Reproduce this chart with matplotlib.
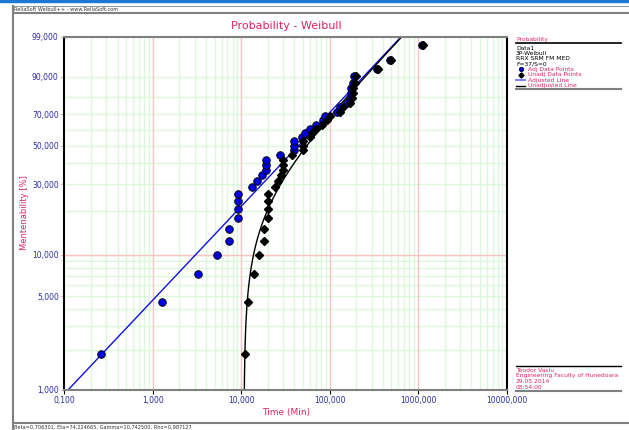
import matplotlib.pyplot as plt
from matplotlib.lines import Line2D
import numpy as np

# fit parameters (from the status bar)
beta = 0.706301
eta = 74.224665
gamma = 10.7425

# failure times (unadjusted) and the gamma-adjusted times, in minutes
times_unadj = [11, 12, 14, 16, 18, 18, 20, 20, 20, 20, 24, 26, 28, 30, 30, 30,
               38, 50, 50, 50, 60, 64, 71, 81, 94, 100, 132, 143, 168, 180,
               183, 183, 195, 200, 356, 491, 1127]
times_adj = [0.26, 1.26, 3.26, 5.26, 7.26, 7.26, 9.26, 9.26, 9.26, 9.26, 13.26,
             15.26, 17.26, 19.26, 19.26, 19.26, 27.26, 39.26, 39.26, 39.26,
             49.26, 53.26, 60.26, 70.26, 83.26, 89.26, 121.26, 132.26, 157.26,
             169.26, 172.26, 172.26, 184.26, 189.26, 345.26, 480.26, 1116.26]
# median ranks [%]
unrel = [1.87, 4.55, 7.22, 9.89, 12.57, 15.24, 17.91, 20.59, 23.26, 25.94,
         28.61, 31.28, 33.96, 36.63, 39.30, 41.98, 44.65, 47.33, 50.00, 52.67,
         55.35, 58.02, 60.70, 63.37, 66.04, 68.72, 71.39, 74.06, 76.74, 79.41,
         82.09, 84.76, 87.43, 90.11, 92.78, 95.45, 98.13]

x_ticks = [0.1, 1, 10, 100, 1000, 10000]
y_ticks = [1, 5, 10, 30, 50, 70, 90, 99]
y_grid = [1, 2, 3, 4, 5, 6, 7, 8, 9, 10, 20, 30, 40, 50, 60, 70, 80, 90, 99]

RED = '#e0245e'
TBLUE = '#2b2ba0'
GREEN = '#dcf7dc'
PINK = '#f5c4c4'
GRAY = '#808080'

W, H = 629, 430


def fwd(p):
    p = np.clip(np.asarray(p, dtype=float), 1e-6, 100 - 1e-6)
    return np.log(-np.log(1 - p / 100.0))


def inv(w):
    return 100.0 * (1 - np.exp(-np.exp(w)))


def fx(x):
    return x / W


def fy(y):
    return 1 - y / H


fig = plt.figure(figsize=(6.29, 4.30), dpi=100)
ax = fig.add_axes([fx(64.3), fy(390), fx(506.5) - fx(64.3), fy(36.7) - fy(390)])
ax.set_xscale('log')
ax.set_yscale('function', functions=(fwd, inv))
ax.set_xlim(0.1, 10000)
ax.set_ylim(1, 99)

# grid
for dec in [0.1, 1, 10, 100, 1000]:
    for k in range(2, 10):
        ax.axvline(dec * k, color=GREEN, lw=1, zorder=0)
for dec in [1, 10, 100, 1000]:
    ax.axvline(dec, color=PINK, lw=1, zorder=0.5)
for p in y_grid:
    ax.axhline(p, color=GREEN, lw=1, zorder=0)
ax.axhline(10, color=PINK, lw=1, zorder=0.5)

# fitted lines
t = np.logspace(-1, 4, 600)
f_adj = 100 * (1 - np.exp(-(t / eta) ** beta))
ax.plot(t, f_adj, color='#1010e0', lw=1, zorder=2)
tu = gamma + np.logspace(-1.2, 4, 600)
f_unadj = 100 * (1 - np.exp(-((tu - gamma) / eta) ** beta))
ax.plot(tu, f_unadj, color='black', lw=1, zorder=2)

# data points
ax.plot(times_adj, unrel, 'o', ms=5.5, mfc='#0000e0', mec='black', mew=0.6, zorder=3)
ax.plot(times_unadj, unrel, 'D', ms=3.6, mfc='black', mec='black', zorder=4)

ax.set_xticks(x_ticks)
ax.set_xticklabels([f'{v:.3f}'.replace('.', ',') for v in x_ticks])
ax.set_xticks([], minor=True)
ax.set_yticks(y_ticks)
ax.set_yticklabels([f'{v:.3f}'.replace('.', ',') for v in y_ticks])
ax.set_yticks([], minor=True)
ax.tick_params(axis='both', labelsize=5.5, labelcolor=TBLUE, length=3, width=0.8)
ax.tick_params(axis='y', colors=PINK, labelcolor=TBLUE)
ax.tick_params(axis='x', pad=1)
ax.tick_params(axis='y', pad=1)

ax.spines['left'].set_color('black')
ax.spines['right'].set_color('black')
ax.spines['top'].set_color(GRAY)
ax.spines['bottom'].set_color(GRAY)
for s in ax.spines.values():
    s.set_linewidth(1.5)

fig.text(fx(286), fy(26), 'Probability - Weibull', color=RED, fontsize=8,
         ha='center', va='center')
fig.text(fx(286), fy(412), 'Time (Min)', color=RED, fontsize=6.5,
         ha='center', va='center')
fig.text(fx(25), fy(213), 'Mentenability [%]', color=RED, fontsize=6,
         ha='center', va='center', rotation=90)


def hline(y, x0, x1, color, lw):
    fig.add_artist(Line2D([fx(x0), fx(x1)], [fy(y), fy(y)], color=color, lw=lw))


def vline(x, y0, y1, color, lw):
    fig.add_artist(Line2D([fx(x), fx(x)], [fy(y0), fy(y1)], color=color, lw=lw))


# window frame
fig.add_artist(plt.Rectangle((0, fy(2)), 1, fy(0) - fy(2), color='#1e78d2',
                             transform=fig.transFigure))
hline(6, 13, 629, GRAY, 0.6)
hline(13, 13, 629, GRAY, 1.5)
vline(13, 6, 430, GRAY, 1.5)
hline(423, 13, 629, GRAY, 1.5)
fig.text(fx(14), fy(9.6), 'ReliaSoft Weibull++ - www.ReliaSoft.com', fontsize=3.6,
         color='#333333', va='center', ha='left')
fig.text(fx(14), fy(427), 'Beta=0,706301, Eta=74,224665, Gamma=10,742500, Rho=0,987127',
         fontsize=3.6, color='#333333', va='center', ha='left')

# legend panel
lfs = 4.3
fig.text(fx(516), fy(39.3), 'Probability', color=RED, fontsize=lfs, va='center')
hline(42.5, 516, 621, 'black', 1.2)
for i, s in enumerate(['Data1', '3P-Weibull', 'RRX SRM FM MED', 'F=37/S=0']):
    fig.text(fx(516), fy(48 + i * 5.2), s, color='black', fontsize=lfs, va='center')
entries = ['Adj Data Points', 'Unadj Data Points', 'Adjusted Line', 'Unadjusted Line']
for i, s in enumerate(entries):
    fig.text(fx(528), fy(69.3 + i * 5.5), s, color=RED, fontsize=lfs, va='center')
fig.add_artist(Line2D([fx(521)], [fy(69.3)], marker='o', ms=3.2, mfc='#0000e0',
                      mec='black', mew=0.5, ls=''))
fig.add_artist(Line2D([fx(521)], [fy(74.8)], marker='D', ms=2.6, mfc='black',
                      mec='black', ls=''))
hline(80.3, 516, 525, '#8080ff', 1.5)
hline(85.8, 516, 525, 'black', 1)
hline(89, 516, 621, GRAY, 1.5)

# author panel
hline(366, 516, 621, 'black', 1)
for i, s in enumerate(['Teodor Vasiu', 'Engineering Faculty of Hunedoara',
                       '29.05.2014', '08:54:00']):
    fig.text(fx(516), fy(370.3 + i * 5.6), s, color=RED, fontsize=lfs, va='center')
hline(391, 516, 621, GRAY, 1.5)

fig.savefig('out.png', dpi=100)
